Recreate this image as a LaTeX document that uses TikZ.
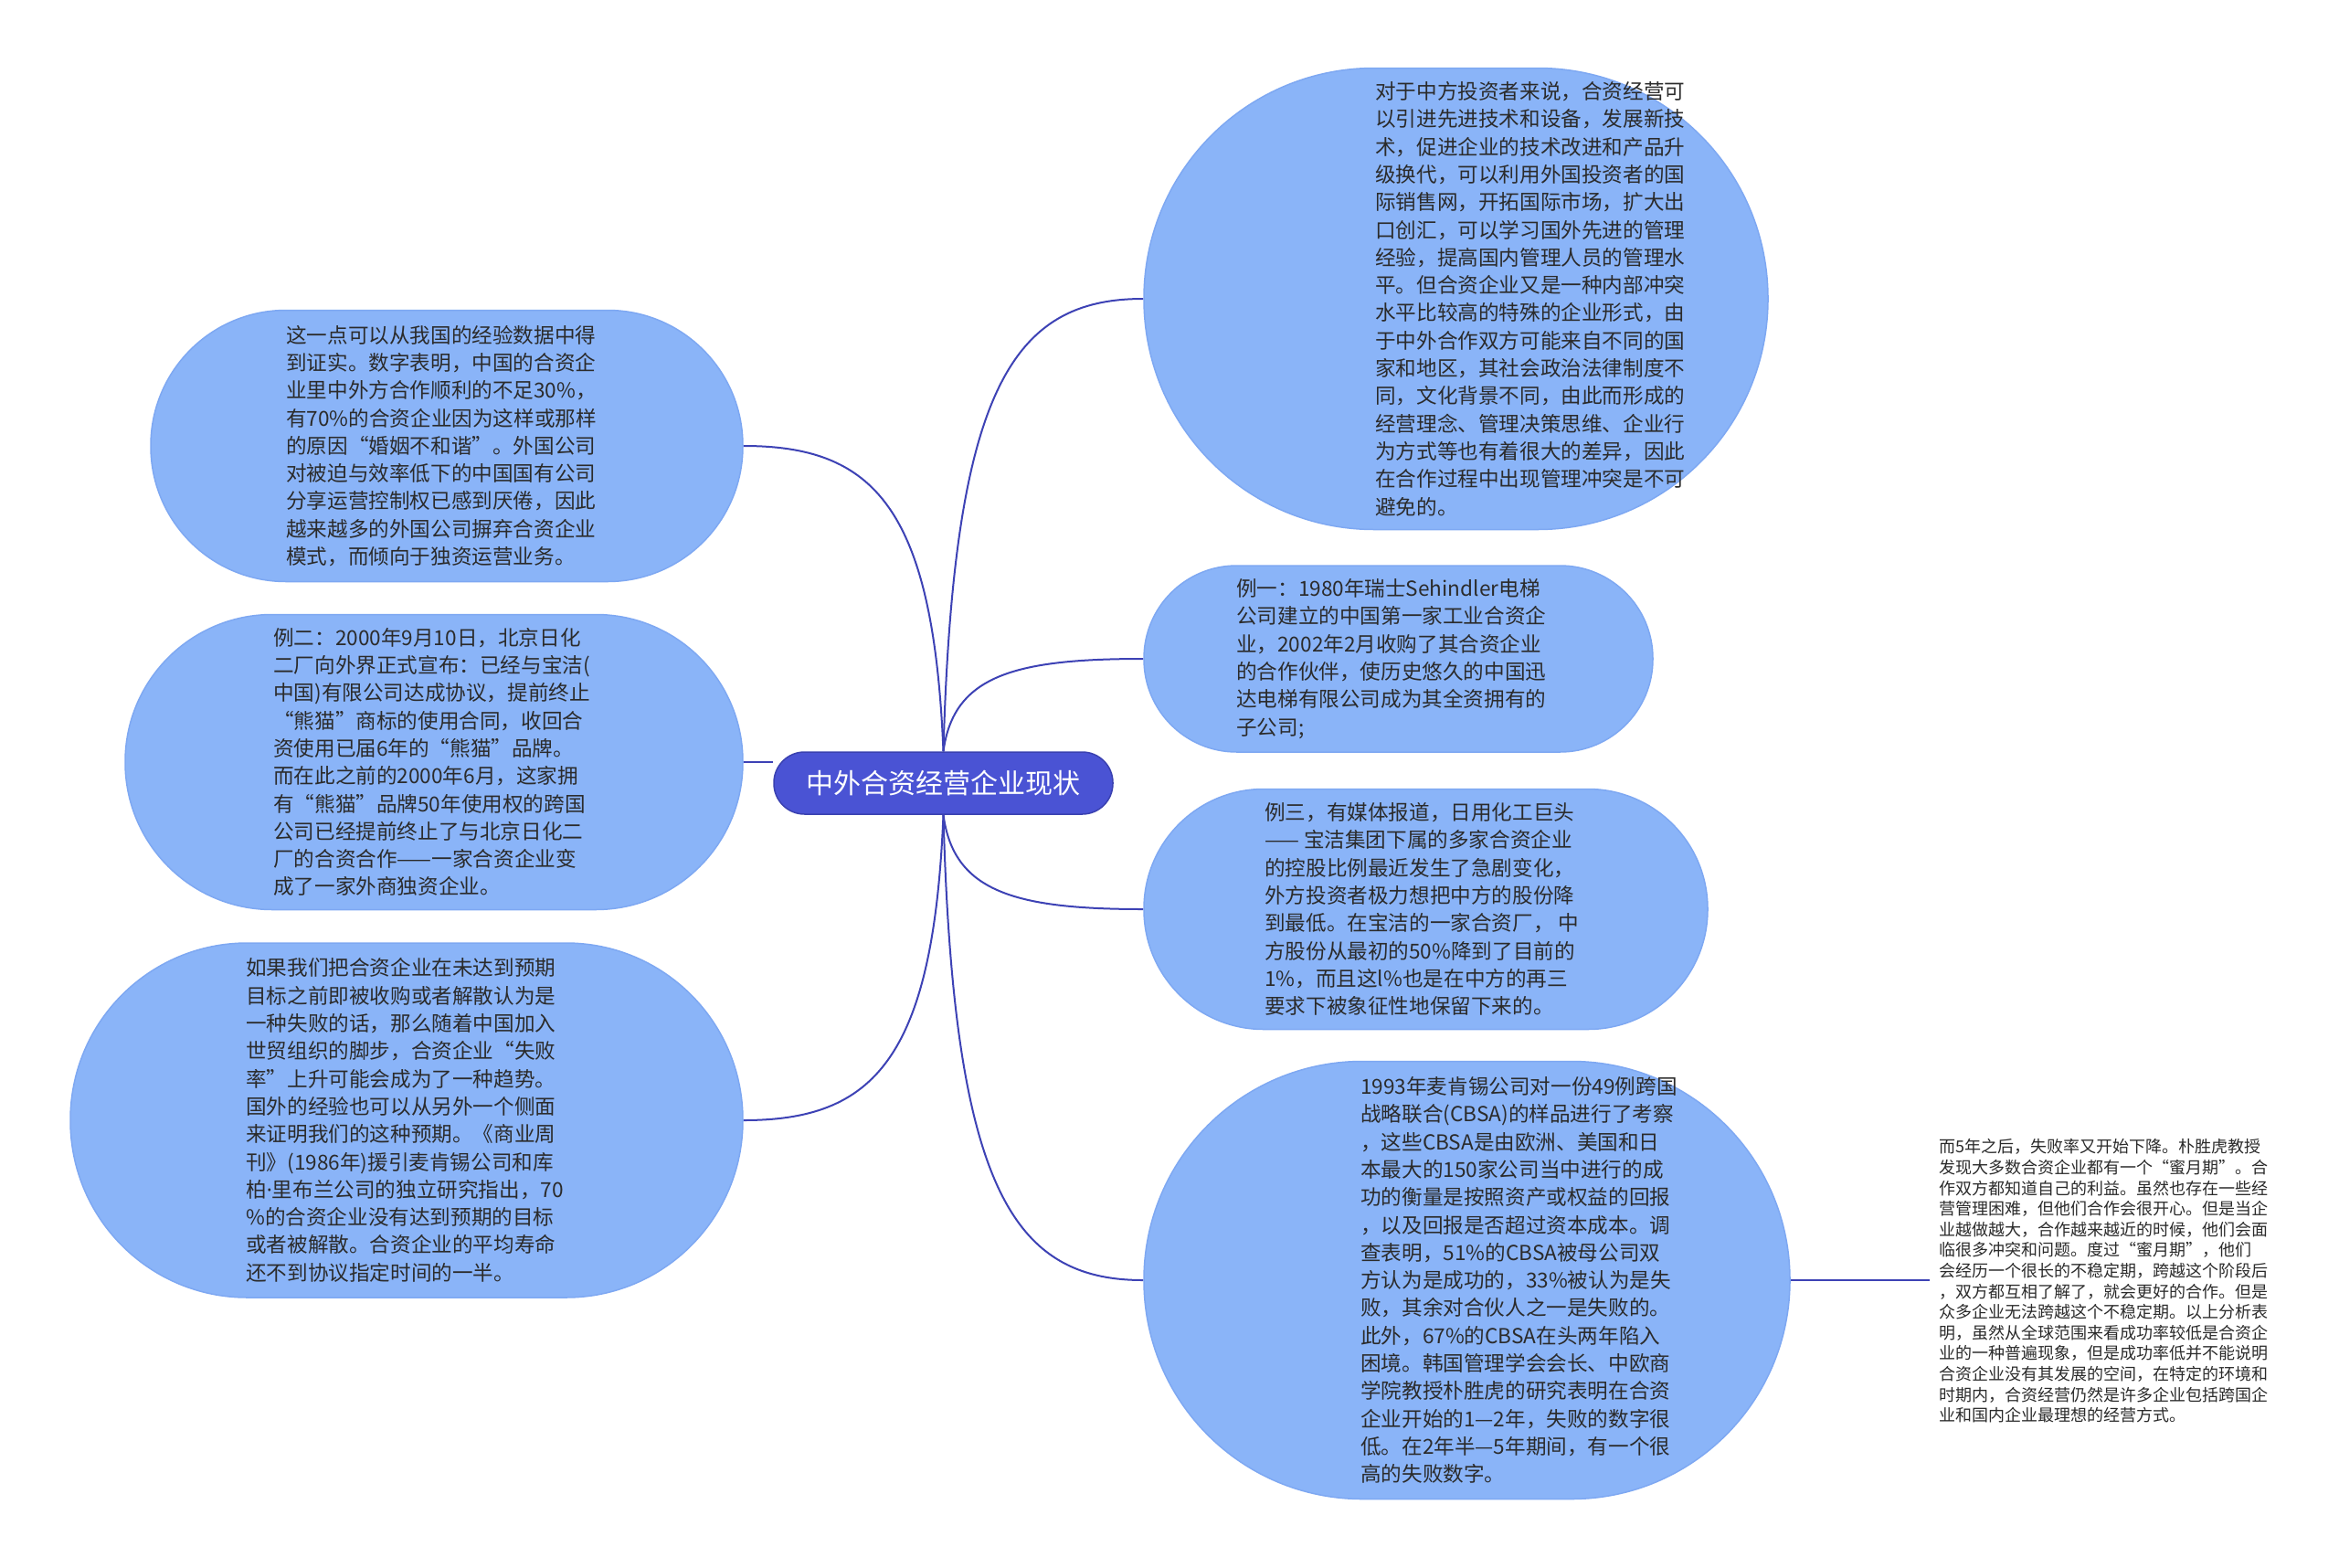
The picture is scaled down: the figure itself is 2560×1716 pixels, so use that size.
\documentclass[tikz,border=0pt]{standalone}
\usepackage{fontspec}
\newfontfamily\cjk{Noto Sans CJK SC}
\newfontfamily\latinf{Noto Sans}
\usetikzlibrary{backgrounds}
\definecolor{bubblefill}{HTML}{8AB4F8}
\definecolor{bubbleedge}{HTML}{7EA8F2}
\definecolor{linkcol}{HTML}{3D42B5}
\definecolor{rootfill}{HTML}{4A53D4}
\definecolor{rootedge}{HTML}{3A41B0}
\definecolor{textcol}{HTML}{2B2B2B}
\begin{document}
\begin{tikzpicture}[x=1pt,y=-1pt,
  bubble/.style={draw=bubbleedge, line width=1.5pt, fill=bubblefill, inner sep=0pt, rectangle},
  btext/.style={font={\cjk\fontsize{22.6}{30.3}\selectfont}, text=textcol, align=left, anchor=west, inner sep=0pt},
  ftext/.style={font={\cjk\fontsize{18}{22.6}\selectfont}, text=textcol, align=left, anchor=west, inner xsep=10pt, inner ysep=0pt},
  link/.style={draw=linkcol, line width=2pt},
  root/.style={fill=rootfill, draw=rootedge, line width=1.5pt, text=white, font={\cjk\fontsize{30}{36}\selectfont}, minimum width=371pt, minimum height=68pt, rounded corners=33.5pt, inner sep=0pt}]
\useasboundingbox (0,0) rectangle (2560,1716);

% bubbles
\node[bubble, minimum width=648pt, minimum height=297pt, rounded corners=148pt] (b1) at (489,488) {};
\node[bubble, minimum width=676pt, minimum height=323pt, rounded corners=161pt] (b2) at (475,834) {};
\node[bubble, minimum width=736pt, minimum height=388pt, rounded corners=193.5pt] (b3) at (445,1226) {};
\node[bubble, minimum width=683pt, minimum height=505pt, rounded corners=252pt] (b4) at (1593.5,327) {};
\node[bubble, minimum width=557pt, minimum height=204pt, rounded corners=101.5pt] (b5) at (1530.5,721) {};
\node[bubble, minimum width=617pt, minimum height=263pt, rounded corners=131pt] (b6) at (1560.5,995) {};
\node[bubble, minimum width=707pt, minimum height=479pt, rounded corners=239pt] (b7) at (1605.5,1401) {};

% texts
\node[btext] (t1) at (313,488) {这一点可以从我国的经验数据中得\\到证实。数字表明，中国的合资企\\业里中外方合作顺利的不足30\%，\\有70\%的合资企业因为这样或那样\\的原因“婚姻不和谐”。外国公司\\对被迫与效率低下的中国国有公司\\分享运营控制权已感到厌倦，因此\\越来越多的外国公司摒弃合资企业\\模式，而倾向于独资运营业务。};
\node[btext] (t2) at (299,834) {例二：2000年9月10日，北京日化\\二厂向外界正式宣布：已经与宝洁(\\中国)有限公司达成协议，提前终止\\“熊猫”商标的使用合同，收回合\\资使用已届6年的“熊猫”品牌。\\而在此之前的2000年6月，这家拥\\有“熊猫”品牌50年使用权的跨国\\公司已经提前终止了与北京日化二\\厂的合资合作——一家合资企业变\\成了一家外商独资企业。};
\node[btext] (t3) at (269,1226) {如果我们把合资企业在未达到预期\\目标之前即被收购或者解散认为是\\一种失败的话，那么随着中国加入\\世贸组织的脚步，合资企业“失败\\率”上升可能会成为了一种趋势。\\国外的经验也可以从另外一个侧面\\来证明我们的这种预期。《商业周\\刊》(1986年)援引麦肯锡公司和库\\柏{\latinf ·}里布兰公司的独立研究指出，70\\\%的合资企业没有达到预期的目标\\或者被解散。合资企业的平均寿命\\还不到协议指定时间的一半。};
\node[btext] (t4) at (1505,327) {对于中方投资者来说，合资经营可\\以引进先进技术和设备，发展新技\\术，促进企业的技术改进和产品升\\级换代，可以利用外国投资者的国\\际销售网，开拓国际市场，扩大出\\口创汇，可以学习国外先进的管理\\经验，提高国内管理人员的管理水\\平。但合资企业又是一种内部冲突\\水平比较高的特殊的企业形式，由\\于中外合作双方可能来自不同的国\\家和地区，其社会政治法律制度不\\同，文化背景不同，由此而形成的\\经营理念、管理决策思维、企业行\\为方式等也有着很大的差异，因此\\在合作过程中出现管理冲突是不可\\避免的。};
\node[btext] (t5) at (1353,721) {例一：1980年瑞士Sehindler电梯\\公司建立的中国第一家工业合资企\\业，2002年2月收购了其合资企业\\的合作伙伴，使历史悠久的中国迅\\达电梯有限公司成为其全资拥有的\\子公司;};
\node[btext] (t6) at (1384,995) {例三，有媒体报道，日用化工巨头\\—— 宝洁集团下属的多家合资企业\\的控股比例最近发生了急剧变化，\\外方投资者极力想把中方的股份降\\到最低。在宝洁的一家合资厂， 中\\方股份从最初的50\%降到了目前的\\1\%，而且这l\%也是在中方的再三\\要求下被象征性地保留下来的。};
\node[btext] (t7) at (1489,1401) {1993年麦肯锡公司对一份49例跨国\\战略联合(CBSA)的样品进行了考察\\，这些CBSA是由欧洲、美国和日\\本最大的150家公司当中进行的成\\功的衡量是按照资产或权益的回报\\，以及回报是否超过资本成本。调\\查表明，51\%的CBSA被母公司双\\方认为是成功的，33\%被认为是失\\败，其余对合伙人之一是失败的。\\此外，67\%的CBSA在头两年陷入\\困境。韩国管理学会会长、中欧商\\学院教授朴胜虎的研究表明在合资\\企业开始的1—2年，失败的数字很\\低。在2年半—5年期间，有一个很\\高的失败数字。};

% free note
\node[ftext] (note) at (2112,1402) {而5年之后，失败率又开始下降。朴胜虎教授\\发现大多数合资企业都有一个“蜜月期”。合\\作双方都知道自己的利益。虽然也存在一些经\\营管理困难，但他们合作会很开心。但是当企\\业越做越大，合作越来越近的时候，他们会面\\临很多冲突和问题。度过“蜜月期”，他们\\会经历一个很长的不稳定期，跨越这个阶段后\\，双方都互相了解了，就会更好的合作。但是\\众多企业无法跨越这个不稳定期。以上分析表\\明，虽然从全球范围来看成功率较低是合资企\\业的一种普遍现象，但是成功率低并不能说明\\合资企业没有其发展的空间，在特定的环境和\\时期内，合资经营仍然是许多企业包括跨国企\\业和国内企业最理想的经营方式。};

% root
\node[root] (c) at (1032.5,857) {中外合资经营企业现状};

\begin{scope}[on background layer]
\fill[white] (0,0) rectangle (2560,1716);
\draw[link] (c.north) .. controls +(-11,-268) and +(142,0) .. (b1.east);
\draw[link] (b2.east) -- (b2.east -| c.west);
\draw[link] (c.south) .. controls +(-11,268) and +(142,0) .. (b3.east);
\draw[link] (c.north) .. controls +(11,-397) and +(-143,0) .. (b4.west);
\draw[link] (c.north) .. controls +(11,-82) and +(-143,0) .. (b5.west);
\draw[link] (c.south) .. controls +(11,83) and +(-143,0) .. (b6.west);
\draw[link] (c.south) .. controls +(11,408) and +(-143,0) .. (b7.west);
\draw[link] (b7.east) -- (b7.east -| note.west);
\end{scope}
\end{tikzpicture}
\end{document}
